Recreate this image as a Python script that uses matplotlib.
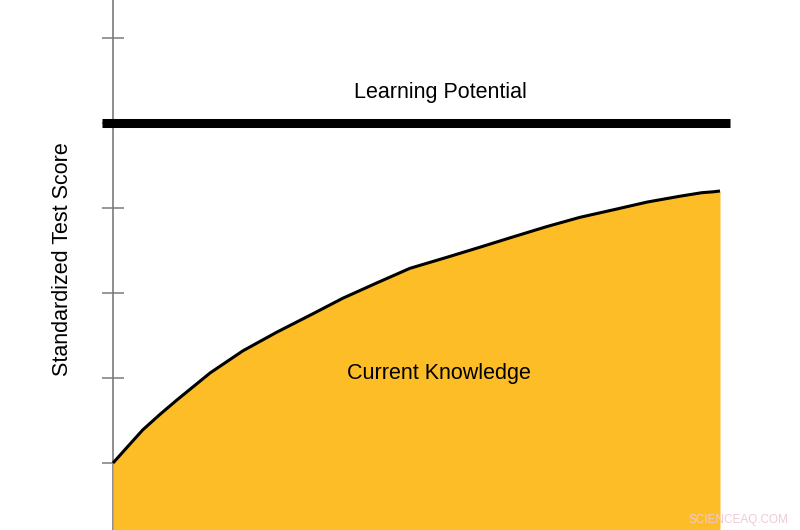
import numpy as np
import matplotlib
matplotlib.use("Agg")
import matplotlib.pyplot as plt

plt.rcParams['font.family'] = ['Liberation Sans', 'DejaVu Sans']

# time axis (arbitrary units, 0-100) and knowledge curve
time_pts = [0, 2.5, 4.9, 7.7, 10.5, 16, 21.4, 27, 32.5, 37.9, 43.5, 48.9, 55, 60.5,
            65.9, 71.4, 76.9, 82.5, 88, 93.5, 97, 98.8, 100]
knowledge = [0, 0.2, 0.39, 0.57, 0.74, 1.06, 1.32, 1.54, 1.74, 1.94, 2.12, 2.29, 2.42,
             2.54, 2.66, 2.78, 2.89, 2.98, 3.07, 3.14, 3.18, 3.19, 3.2]
potential = 4.0
y_ticks = [0, 1, 2, 3, 4, 5]

fig = plt.figure(figsize=(8, 5.3), dpi=100)
ax = fig.add_axes([0, 0, 1, 1])
ax.set_xlim(-18.62, 113.18)
ax.set_ylim(-0.788, 5.447)

# yellow area for current knowledge
ax.fill_between(time_pts, knowledge, -0.788, color='#FCBD26', lw=0, zorder=3)
ax.plot(time_pts, knowledge, color='black', lw=2.2, zorder=4, solid_capstyle='butt')

# learning potential bar
ax.plot([-1.8, 101.6], [potential, potential], color='black', lw=6.5, zorder=5,
        solid_capstyle='butt')

ax.text(53.9, 4.36, 'Learning Potential', ha='center', va='center', fontsize=15.5)
ax.text(53.7, 1.05, 'Current Knowledge', ha='center', va='center', fontsize=15.5, zorder=6)
ax.text(-8.3, 2.4, 'Standardized Test Score', ha='center', va='center',
        rotation=90, fontsize=15.5)

# only the left axis, through x = 0
for side in ['top', 'right', 'bottom']:
    ax.spines[side].set_visible(False)
ax.spines['left'].set_position(('data', 0))
ax.spines['left'].set_color('#7a7a7a')
ax.spines['left'].set_linewidth(1.2)
ax.set_xticks([])
ax.set_yticks(y_ticks)
ax.set_yticklabels([])
ax.tick_params(axis='y', direction='inout', length=16, width=1.1, color='#7a7a7a')

fig.text(0.985, 0.018, 'SCIENCEAQ.COM', ha='right', va='center', fontsize=8.5,
         color='#f2c9d3')

fig.savefig('out.png', dpi=100)
